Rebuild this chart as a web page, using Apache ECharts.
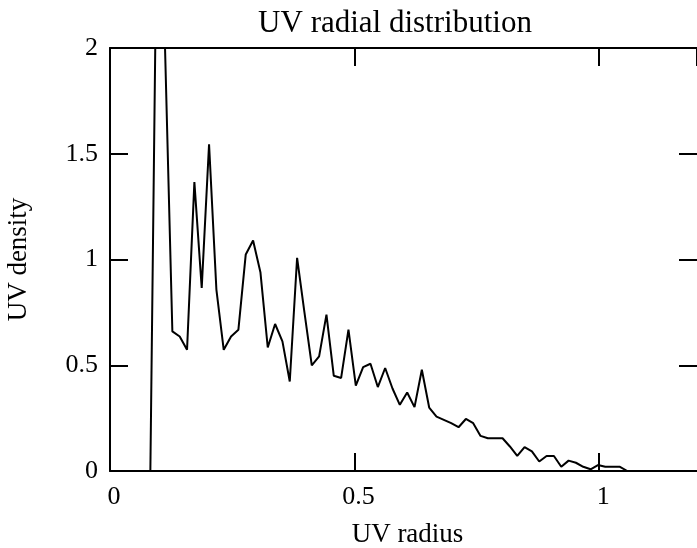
<!DOCTYPE html>
<html>
<head>
<meta charset="utf-8">
<style>
  html, body { margin: 0; padding: 0; background: #ffffff; }
  #chart { width: 697px; height: 548px; }
</style>
<script src="https://cdn.jsdelivr.net/npm/echarts@6/dist/echarts.min.js"></script>
</head>
<body>
<div id="chart"></div>
<script>
// Bin centres of the UV radius histogram (bin width 0.015)
const uvRadius = [
  0.0075, 0.0225, 0.0375, 0.0525, 0.0675, 0.0825, 0.0975, 0.1125, 0.1275, 0.1425,
  0.1575, 0.1725, 0.1875, 0.2025, 0.2175, 0.2325, 0.2475, 0.2625, 0.2775, 0.2925,
  0.3075, 0.3225, 0.3375, 0.3525, 0.3675, 0.3825, 0.3975, 0.4125, 0.4275, 0.4425,
  0.4575, 0.4725, 0.4875, 0.5025, 0.5175, 0.5325, 0.5475, 0.5625, 0.5775, 0.5925,
  0.6075, 0.6225, 0.6375, 0.6525, 0.6675, 0.6825, 0.6975, 0.7125, 0.7275, 0.7425,
  0.7575, 0.7725, 0.7875, 0.8025, 0.8175, 0.8325, 0.8475, 0.8625, 0.8775, 0.8925,
  0.9075, 0.9225, 0.9375, 0.9525, 0.9675, 0.9825, 0.9975, 1.0125, 1.0275, 1.0425,
  1.0575, 1.0725, 1.0875, 1.1025, 1.1175, 1.1325, 1.1475, 1.1625, 1.1775, 1.1925
];

// Density of UV samples in each radius bin
const uvDensity = [
  0, 0, 0, 0, 0, 0, 3.0, 2.0, 0.66, 0.636,
  0.573, 1.366, 0.866, 1.545, 0.858, 0.573, 0.636, 0.668, 1.024, 1.09,
  0.94, 0.584, 0.695, 0.613, 0.423, 1.008, 0.75, 0.499, 0.542, 0.739,
  0.45, 0.44, 0.668, 0.404, 0.491, 0.507, 0.397, 0.487, 0.39, 0.313,
  0.371, 0.302, 0.479, 0.30, 0.257, 0.242, 0.226, 0.207, 0.246, 0.226,
  0.166, 0.155, 0.155, 0.155, 0.116, 0.071, 0.113, 0.093, 0.045, 0.071,
  0.071, 0.02, 0.049, 0.039, 0.02, 0.008, 0.028, 0.02, 0.02, 0.02,
  0, 0, 0, 0, 0, 0, 0, 0, 0, 0
];

const xTicks = { min: 0, max: 1.2, interval: 0.5 };
const yTicks = { min: 0, max: 2, interval: 0.5 };

const FONT = 'Liberation Serif';
const INK = '#000000';

const points = uvRadius.map((r, i) => [r, uvDensity[i]]);

function frameAxis(extra) {
  return Object.assign({
    type: 'value',
    splitLine: { show: false },
    axisLine: { show: true, onZero: false, lineStyle: { color: INK, width: 2 } },
    axisTick: { show: true, inside: true, length: 18, lineStyle: { color: INK, width: 2 } },
    axisLabel: { show: false }
  }, extra);
}

const chart = echarts.init(document.getElementById('chart'), null, { renderer: 'canvas' });
chart.setOption({
  animation: false,
  backgroundColor: '#ffffff',
  title: {
    text: 'UV radial distribution',
    left: 390,
    textAlign: 'center',
    top: 3,
    textStyle: { fontFamily: FONT, fontSize: 31, fontWeight: 'normal', color: INK }
  },
  grid: {
    left: 110, right: 0, top: 48, bottom: 77,
    containLabel: false,
    outerBoundsMode: 'none'
  },
  xAxis: [
    frameAxis({
      position: 'bottom',
      min: xTicks.min, max: xTicks.max, interval: xTicks.interval,
      name: 'UV radius',
      nameLocation: 'middle',
      nameGap: 50,
      nameTextStyle: { fontFamily: FONT, fontSize: 27, color: INK, padding: [0, 0, 0, 8] },
      axisLabel: {
        show: true, showMaxLabel: false, margin: 13,
        fontFamily: FONT, fontSize: 26, color: INK,
        padding: [0, 0, 0, 8]
      }
    }),
    frameAxis({
      position: 'top',
      min: xTicks.min, max: xTicks.max, interval: xTicks.interval
    })
  ],
  yAxis: [
    frameAxis({
      position: 'left',
      min: yTicks.min, max: yTicks.max, interval: yTicks.interval,
      name: 'UV density',
      nameLocation: 'middle',
      nameGap: 78,
      nameRotate: 90,
      nameTextStyle: { fontFamily: FONT, fontSize: 27, color: INK },
      axisLabel: {
        show: true, margin: 12,
        fontFamily: FONT, fontSize: 26, color: INK
      }
    }),
    frameAxis({
      position: 'right',
      min: yTicks.min, max: yTicks.max, interval: yTicks.interval,
      axisLine: { show: true, onZero: false, lineStyle: { color: INK, width: 1 } }
    })
  ],
  series: [{
    type: 'line',
    xAxisIndex: 0,
    yAxisIndex: 0,
    data: points,
    symbol: 'none',
    clip: true,
    lineStyle: { color: INK, width: 2 },
    z: 3
  }]
});
</script>
</body>
</html>
